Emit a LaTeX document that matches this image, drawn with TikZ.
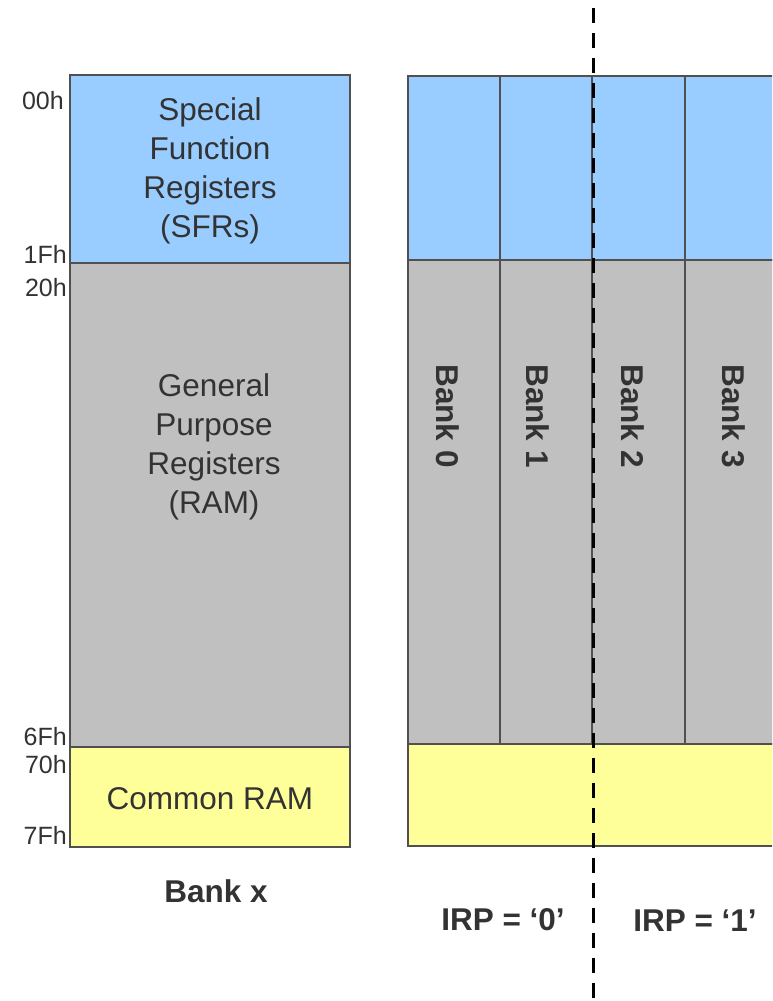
\documentclass[tikz,border=0pt]{standalone}
\usepackage{fontspec}
\setmainfont{Liberation Sans}
\definecolor{sfrblue}{HTML}{99CCFF}
\definecolor{gprgray}{HTML}{C0C0C0}
\definecolor{comyel}{HTML}{FFFF99}
\definecolor{edge}{HTML}{505050}
\definecolor{ink}{HTML}{333333}
\begin{document}
\begin{tikzpicture}[x=1pt,y=-1pt,
  cell/.style={draw=edge,line width=2pt},
  big/.style={text=ink,font=\fontsize{31.5}{39}\selectfont,align=center,inner sep=0pt},
  bold/.style={text=ink,font=\bfseries\fontsize{31.5}{39}\selectfont,inner sep=0pt},
  addr/.style={text=ink,font=\fontsize{25}{28}\selectfont,anchor=east,inner sep=0pt},
  banklbl/.style={text=ink,font=\bfseries\fontsize{31.5}{39}\selectfont,rotate=-90,inner sep=0pt},
  divider/.style={line width=3pt,dash pattern=on 15pt off 10pt}]
\useasboundingbox (0,0) rectangle (772,1001);
\fill[white] (0,0) rectangle (772,1001);
% left bank
\draw[cell,fill=sfrblue] (70,75) rectangle (350,263);
\draw[cell,fill=gprgray] (70,263) rectangle (350,747);
\draw[cell,fill=comyel] (70,747) rectangle (350,847);
\node[big] (sfr) at (210,171) {Special\\Function\\Registers\\(SFRs)};
\node[big] (gpr) at (214,447) {General\\Purpose\\Registers\\(RAM)};
\node[big] (com) at (210,799) {Common RAM};
\node[bold] (bankx) at (216,891) {Bank x};
\node[addr] (a00) at (64,101) {00h};
\node[addr] (a1f) at (67,254) {1Fh};
\node[addr] (a20) at (67,288) {20h};
\node[addr] (a6f) at (67,737) {6Fh};
\node[addr] (a70) at (67,765) {70h};
\node[addr] (a7f) at (67,835) {7Fh};
% right banks
\begin{scope}
\clip (0,0) rectangle (772,1001);
\draw[cell,fill=sfrblue] (408,76) rectangle (790,260);
\draw[cell,fill=gprgray] (408,260) rectangle (790,744);
\draw[cell,fill=comyel] (408,744) rectangle (790,846);
\foreach \xx in {500,592,685} {\draw[cell] (\xx,76) -- (\xx,744);}
\end{scope}
\node[banklbl] (b0) at (448,416) {Bank 0};
\node[banklbl] (b1) at (538,416) {Bank 1};
\node[banklbl] (b2) at (633,416) {Bank 2};
\node[banklbl] (b3) at (734,416) {Bank 3};
\node[bold] (irp0) at (503,920) {IRP = ‘0’};
\node[bold] (irp1) at (695,921) {IRP = ‘1’};
\coordinate (dtop) at (593,8);
\coordinate (dbot) at (593,1001);
\draw[divider] (dtop) -- (dbot);
\end{tikzpicture}
\end{document}
